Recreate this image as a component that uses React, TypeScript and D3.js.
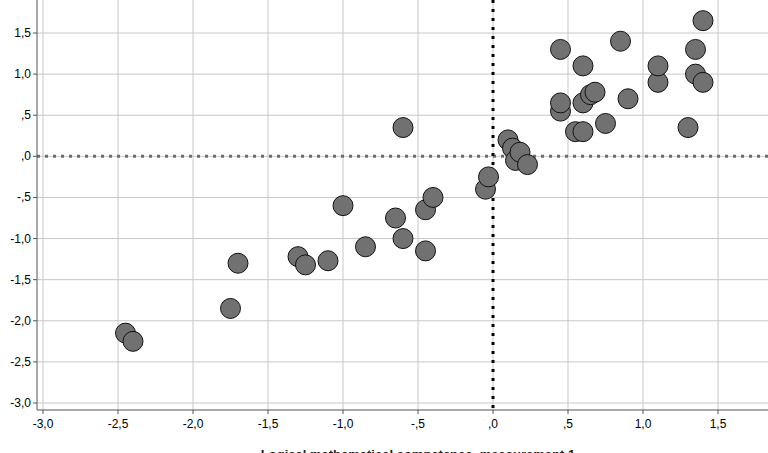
import { useEffect, useRef } from 'react';
import * as d3 from 'd3';

const xs = [-2.45, -2.4, -1.75, -1.7, -1.3, -1.25, -1.1, -1.0, -0.85, -0.65, -0.6, -0.6, -0.45, -0.45, -0.4, -0.05, -0.03, 0.1, 0.13, 0.15, 0.18, 0.23, 0.45, 0.45, 0.45, 0.55, 0.6, 0.6, 0.6, 0.65, 0.68, 0.75, 0.85, 0.9, 1.1, 1.1, 1.3, 1.35, 1.35, 1.4, 1.4];
const ys = [-2.15, -2.25, -1.85, -1.3, -1.22, -1.32, -1.27, -0.6, -1.1, -0.75, -1.0, 0.35, -0.65, -1.15, -0.5, -0.4, -0.25, 0.2, 0.1, -0.05, 0.05, -0.1, 0.55, 0.65, 1.3, 0.3, 0.3, 0.65, 1.1, 0.75, 0.78, 0.4, 1.4, 0.7, 0.9, 1.1, 0.35, 1.3, 1.0, 0.9, 1.65];
const xTicks = [-3, -2.5, -2, -1.5, -1, -0.5, 0, 0.5, 1, 1.5];
const yTicks = [1.5, 1, 0.5, 0, -0.5, -1, -1.5, -2, -2.5, -3];
const xTitle = 'Logical mathematical competence, measurement 1';

const fmt = (v: number) => {
  const s = Math.abs(v).toFixed(1).replace('.', ',');
  const t = Math.abs(v) < 1 ? s.replace(/^0/, '') : s;
  return (v < 0 ? '-' : '') + t;
};

export default function App() {
  const ref = useRef<SVGSVGElement>(null);
  const W = 768, H = 453;
  const left = 37, bottom = 410;

  useEffect(() => {
    const svg = d3.select(ref.current);
    svg.selectAll('*').remove();
    const x = d3.scaleLinear().domain([-3, 1.5]).range([43, 718]);
    const y = d3.scaleLinear().domain([1.5, -3]).range([33, 403]);

    const grid = svg.append('g').attr('stroke', '#c8c8c8').attr('stroke-width', 1);
    xTicks.forEach(t => grid.append('line').attr('x1', x(t)).attr('x2', x(t)).attr('y1', 0).attr('y2', bottom));
    yTicks.forEach(t => grid.append('line').attr('x1', left).attr('x2', W).attr('y1', y(t)).attr('y2', y(t)));

    svg.append('line').attr('x1', left).attr('x2', W).attr('y1', y(0)).attr('y2', y(0))
      .attr('stroke', '#6a706a').attr('stroke-width', 3).attr('stroke-dasharray', '3,5');
    svg.append('line').attr('x1', x(0)).attr('x2', x(0)).attr('y1', 0).attr('y2', bottom)
      .attr('stroke', '#000').attr('stroke-width', 3).attr('stroke-dasharray', '3,6');

    svg.append('line').attr('x1', left).attr('x2', W).attr('y1', bottom).attr('y2', bottom).attr('stroke', '#555');
    svg.append('line').attr('x1', left).attr('x2', left).attr('y1', 0).attr('y2', bottom).attr('stroke', '#555');

    const lab = { 'font-family': 'Liberation Sans Narrow, Liberation Sans, Arial, sans-serif', 'font-size': 12, fill: '#000' };
    xTicks.forEach(t => {
      svg.append('line').attr('x1', x(t)).attr('x2', x(t)).attr('y1', bottom).attr('y2', bottom + 4).attr('stroke', '#555');
      const e = svg.append('text').attr('x', x(t)).attr('y', bottom + 18).attr('text-anchor', 'middle').text(fmt(t));
      Object.entries(lab).forEach(([k, v]) => e.attr(k, v));
    });
    yTicks.forEach(t => {
      svg.append('line').attr('x1', left - 4).attr('x2', left).attr('y1', y(t)).attr('y2', y(t)).attr('stroke', '#555');
      const e = svg.append('text').attr('x', left - 6).attr('y', y(t) + 4).attr('text-anchor', 'end').text(fmt(t));
      Object.entries(lab).forEach(([k, v]) => e.attr(k, v));
    });

    svg.append('text').attr('x', 418).attr('y', 459).attr('text-anchor', 'middle')
      .attr('font-family', 'Liberation Sans, Arial, sans-serif').attr('font-size', 13).attr('font-weight', 'bold')
      .attr('fill', '#222').text(xTitle);

    svg.append('g').selectAll('circle').data(xs.map((v, i) => [v, ys[i]])).enter().append('circle')
      .attr('cx', d => x(d[0])).attr('cy', d => y(d[1])).attr('r', 10)
      .attr('fill', '#717171').attr('stroke', '#111').attr('stroke-width', 1);
  }, []);

  return (
    <svg ref={ref} width={W} height={H} style={{ position: 'absolute', left: 0, top: 0, background: '#fff' }} />
  );
}
